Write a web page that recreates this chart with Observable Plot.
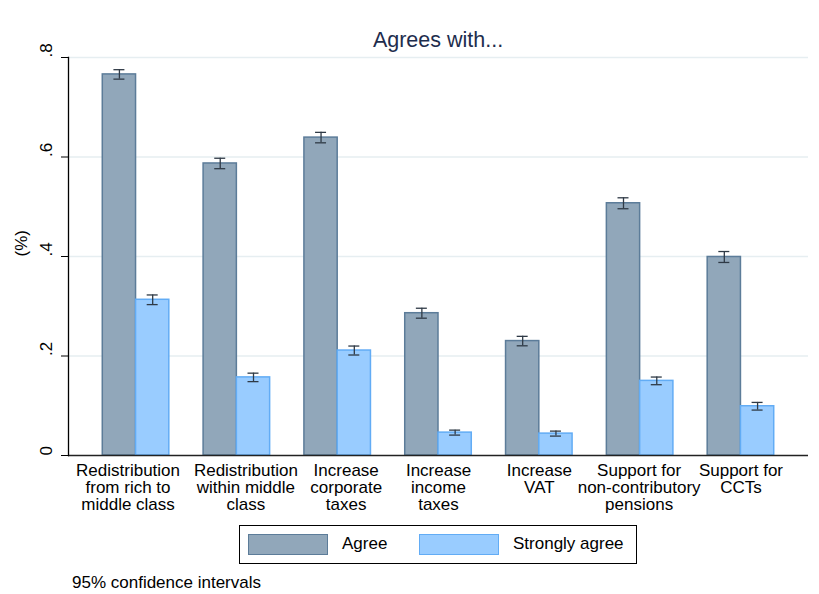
<!DOCTYPE html>
<html>
<head>
<meta charset="utf-8">
<script src="https://cdn.jsdelivr.net/npm/d3@7"></script>
<script src="https://cdn.jsdelivr.net/npm/@observablehq/plot@0.6"></script>
<style>
  html, body { margin: 0; padding: 0; background: #fff; }
  body { font-family: "Liberation Sans", Arial, sans-serif; }
  #wrap { position: relative; width: 819px; height: 594px; overflow: hidden; }
  #chart { position: absolute; left: 0; top: 0; }
  #title { position: absolute; left: 238px; width: 400px; top: 28px; line-height: 24px; text-align: center; font-size: 21.5px; color: #1e2d4d; }
  #legend { position: absolute; left: 239px; top: 525px; width: 396px; height: 37px; border: 1px solid #000; box-sizing: content-box; }
  .sw { position: absolute; top: 8px; width: 78px; height: 19px; }
  .lt { position: absolute; top: 7px; line-height: 22px; font-size: 17px; color: #000; }
  #caption { position: absolute; left: 72px; top: 573px; line-height: 20px; font-size: 17px; color: #000; }
</style>
</head>
<body>
<div id="wrap">
  <div id="chart"></div>
  <div id="title"></div>
  <div id="legend"></div>
  <div id="caption"></div>
</div>
<script>
const categories = [
  "Redistribution\nfrom rich to\nmiddle class",
  "Redistribution\nwithin middle\nclass",
  "Increase\ncorporate\ntaxes",
  "Increase\nincome\ntaxes",
  "Increase\nVAT",
  "Support for\nnon-contributory\npensions",
  "Support for\nCCTs"
];
const agree      = [0.766, 0.587, 0.639, 0.286, 0.230, 0.507, 0.399];
const agreeCI    = [0.0095, 0.0105, 0.0105, 0.010, 0.0095, 0.011, 0.011];
const strongly   = [0.313, 0.157, 0.211, 0.046, 0.044, 0.150, 0.099];
const stronglyCI = [0.0097, 0.0085, 0.009, 0.005, 0.005, 0.0077, 0.0077];
const yTicks      = [0, 0.2, 0.4, 0.6, 0.8];
const yTickLabels = ["0", ".2", ".4", ".6", ".8"];
const seriesNames = ["Agree", "Strongly agree"];
const titleText   = "Agrees with...";
const yLabel      = "(%)";
const captionText = "95% confidence intervals";

const colors = {
  agreeFill: "#91a7ba", agreeStroke: "#5c7c99",
  strongFill: "#99ccff", strongStroke: "#62acf5",
  err: "#2f3a46"
};

const rows = categories.map((c, i) => ({
  cat: c,
  agree: agree[i], aLo: agree[i] - agreeCI[i], aHi: agree[i] + agreeCI[i],
  strong: strongly[i], sLo: strongly[i] - stronglyCI[i], sHi: strongly[i] + stronglyCI[i]
}));

const W = 819, H = 530, mL = 68, mR = 11, mT = 57, mB = 75;
const pad = 0.34;
const step = (W - mL - mR) / (categories.length - pad + 2 * pad);
const bw = step * (1 - pad);
const half = bw / 2, q = bw / 4, capW = 11;
const capIn = (bw - capW) / 2;
const font = '"Liberation Sans", Arial, sans-serif';
// horizontal nudges of the category labels (layout only, as in the reference)
const labelNudge = [-8, 9, 8.5, 0, 0, -1, 0];

const errMarks = (key, lo, hi, off) => [
  Plot.ruleX(rows, { x: "cat", y1: lo, y2: hi, dx: off, stroke: colors.err, strokeWidth: 1.3 }),
  Plot.tickY(rows, { x: "cat", y: hi, dx: off, insetLeft: capIn, insetRight: capIn, stroke: colors.err, strokeWidth: 1.3 }),
  Plot.tickY(rows, { x: "cat", y: lo, dx: off, insetLeft: capIn, insetRight: capIn, stroke: colors.err, strokeWidth: 1.3 })
];

const plot = Plot.plot({
  width: W, height: H,
  marginLeft: mL, marginRight: mR, marginTop: mT, marginBottom: mB,
  x: { domain: categories, padding: pad, round: false, axis: null },
  y: { domain: [0, 0.8], axis: null },
  style: { fontFamily: font, fontSize: "17px", background: "#fff", color: "#000", overflow: "visible" },
  marks: [
    Plot.gridY(yTicks.slice(1), { stroke: "#e6eef1", strokeOpacity: 1, strokeWidth: 1.5 }),
    Plot.barY(rows, { x: "cat", y: "agree", fill: colors.agreeFill, stroke: colors.agreeStroke, strokeWidth: 1.5, insetRight: half }),
    Plot.barY(rows, { x: "cat", y: "strong", fill: colors.strongFill, stroke: colors.strongStroke, strokeWidth: 1.5, insetLeft: half }),
    ...errMarks("a", "aLo", "aHi", -q),
    ...errMarks("s", "sLo", "sHi", q),
    Plot.ruleY([0], { stroke: "#222", strokeWidth: 1.5 }),
    Plot.frame({ anchor: "left", stroke: "#000", strokeWidth: 1.3 }),
    Plot.axisY({ ticks: yTicks, tickSize: 7, tickFormat: () => "", stroke: "#000" }),
    Plot.text(yTicks, { y: d => d, text: (d, i) => yTickLabels[i], frameAnchor: "left", dx: -22, rotate: -90, fontSize: 17, fill: "#000" }),
    Plot.text([yLabel], { text: d => d, frameAnchor: "left", dx: -47, rotate: -90, fontSize: 17, fill: "#000" }),
    ...categories.map((c, i) => Plot.text([c], { x: d => d, text: d => d, frameAnchor: "bottom", lineAnchor: "top", dy: 8, dx: labelNudge[i], lineHeight: 1.0, fontSize: 17, fill: "#000" }))
  ]
});
document.getElementById("chart").appendChild(plot);

document.getElementById("title").textContent = titleText;
document.getElementById("caption").textContent = captionText;

const legend = document.getElementById("legend");
const items = [
  { name: seriesNames[0], fill: colors.agreeFill, stroke: colors.agreeStroke, sx: 8, tx: 102 },
  { name: seriesNames[1], fill: colors.strongFill, stroke: colors.strongStroke, sx: 179, tx: 273 }
];
items.forEach(it => {
  const sw = document.createElement("div");
  sw.className = "sw";
  sw.style.left = it.sx + "px";
  sw.style.background = it.fill;
  sw.style.border = "1.5px solid " + it.stroke;
  legend.appendChild(sw);
  const t = document.createElement("div");
  t.className = "lt";
  t.style.left = it.tx + "px";
  t.textContent = it.name;
  legend.appendChild(t);
});
</script>
</body>
</html>
